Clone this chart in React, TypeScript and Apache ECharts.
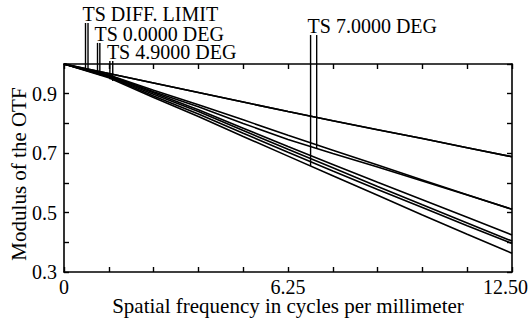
import React, { useEffect, useRef } from "react";
import * as echarts from "echarts";

const freqs = [0, 1.25, 2.5, 3.75, 5, 6.25, 7.5, 8.75, 10, 11.25, 12.5];
const diffLimit = [1.0, 0.968, 0.936, 0.904, 0.872, 0.84, 0.809, 0.779, 0.749, 0.718, 0.688];
const curveA = [1.0, 0.963, 0.912, 0.863, 0.812, 0.76, 0.71, 0.66, 0.61, 0.56, 0.511];
const curveB = [1.0, 0.962, 0.907, 0.856, 0.8, 0.746, 0.699, 0.653, 0.606, 0.559, 0.511];
const curveC = [1.0, 0.96, 0.903, 0.846, 0.784, 0.722, 0.662, 0.602, 0.543, 0.484, 0.4245];
const curveD = [1.0, 0.958, 0.898, 0.84, 0.776, 0.713, 0.651, 0.588, 0.526, 0.465, 0.404];
const curveE = [1.0, 0.956, 0.892, 0.832, 0.767, 0.703, 0.64, 0.578, 0.517, 0.456, 0.396];
const curveF = [1.0, 0.954, 0.887, 0.823, 0.756, 0.69, 0.624, 0.558, 0.492, 0.427, 0.363];

const markerNames = ["TS DIFF. LIMIT", "TS 0.0000 DEG", "TS 4.9000 DEG", "TS 7.0000 DEG"];
const markerFreqs = [[0.6, 0.67], [0.935, 1.0], [1.28, 1.36], [6.88, 7.05]];
const markerTops = [1.138, 1.071, 1.01, 1.0975];
const markerEnds = [[0.985, 0.983], [0.968, 0.962], [0.949, 0.943], [0.657, 0.716]];

const xTickLabels: Record<string, string> = { "0": "0", "6.25": "6.25", "12.5": "12.50" };
const yTickLabels: Record<string, string> = { "0.3": "0.3", "0.5": "0.5", "0.7": "0.7", "0.9": "0.9" };

const FONT = "'Liberation Serif', 'Times New Roman', 'DejaVu Serif', serif";

export default function App() {
  const ref = useRef<HTMLDivElement>(null);
  useEffect(() => {
    if (!ref.current) return;
    const chart = echarts.init(ref.current, undefined, { renderer: "svg" });
    const curves = [diffLimit, diffLimit, curveA, curveB, curveC, curveD, curveE, curveF];
    const curveSeries = curves.map((c) => ({
      type: "line",
      data: freqs.map((f, i) => [f, c[i]]),
      showSymbol: false,
      symbol: "none",
      lineStyle: { color: "#000", width: 1.6 },
      xAxisIndex: 0,
      yAxisIndex: 0,
      silent: true,
    }));
    const markerSeries: any[] = [];
    markerNames.forEach((name, m) => {
      markerFreqs[m].forEach((f, k) => {
        markerSeries.push({
          type: "line",
          clip: false,
          silent: true,
          symbol: "circle",
          symbolSize: 1,
          showSymbol: true,
          itemStyle: { color: "transparent" },
          lineStyle: { color: "#000", width: 1.4 },
          data: [
            k === 0
              ? {
                  value: [f, markerTops[m]],
                  label: {
                    show: true,
                    formatter: name,
                    position: "top",
                    align: "left",
                    offset: [-3, 4],
                    color: "#000",
                    fontFamily: FONT,
                    fontSize: 20,
                    lineHeight: 15,
                  },
                }
              : [f, markerTops[m]],
            [f, markerEnds[m][k]],
          ],
        });
      });
    });
    const axisCommon = {
      type: "value",
      axisLine: { show: true, onZero: false, lineStyle: { color: "#000", width: 1.6 } },
      axisTick: { show: true, inside: true, length: 5, lineStyle: { color: "#000", width: 1.4 } },
      splitLine: { show: false },
    };
    chart.setOption({
      animation: false,
      grid: { left: 64, right: 18, top: 64, bottom: 48, containLabel: false, outerBoundsMode: "none" },
      xAxis: [
        {
          ...axisCommon,
          min: 0,
          max: 12.5,
          interval: 1.25,
          position: "bottom",
          name: "Spatial frequency in cycles per millimeter",
          nameLocation: "middle",
          nameGap: 25,
          nameMoveOverlap: false,
          nameTextStyle: { fontFamily: FONT, fontSize: 21, color: "#000", lineHeight: 18 },
          axisLabel: {
            show: true,
            margin: 6,
            fontFamily: FONT,
            fontSize: 20,
            lineHeight: 18,
            color: "#000",
            formatter: (v: number) => {
              const t = xTickLabels[String(Math.round(v * 100) / 100)];
              if (!t) return "";
              return v > 12 ? "{r|" + t + "}" : t;
            },
            rich: { r: { fontFamily: FONT, fontSize: 20, lineHeight: 18, color: "#000", padding: [0, 13, 0, 0] } },
          },
        },
        {
          ...axisCommon,
          min: 0,
          max: 12.5,
          interval: 1.25,
          position: "top",
          axisLabel: { show: false },
        },
      ],
      yAxis: [
        {
          ...axisCommon,
          min: 0.3,
          max: 1.0,
          interval: 0.1,
          position: "left",
          name: "Modulus of the OTF",
          nameLocation: "middle",
          nameGap: 35,
          nameMoveOverlap: false,
          nameTextStyle: { fontFamily: FONT, fontSize: 21, color: "#000", padding: [0, 12, 0, 0] },
          axisLabel: {
            show: true,
            margin: 7,
            fontFamily: FONT,
            fontSize: 20,
            color: "#000",
            formatter: (v: number) => yTickLabels[String(Math.round(v * 10) / 10)] || "",
          },
        },
        {
          ...axisCommon,
          min: 0.3,
          max: 1.0,
          interval: 0.1,
          position: "right",
          axisLabel: { show: false },
        },
      ],
      series: [...curveSeries, ...markerSeries],
    });
    return () => chart.dispose();
  }, []);
  return (
    <div
      ref={ref}
      style={{ position: "fixed", left: 0, top: 0, width: 530, height: 320, background: "#fff" }}
    />
  );
}
